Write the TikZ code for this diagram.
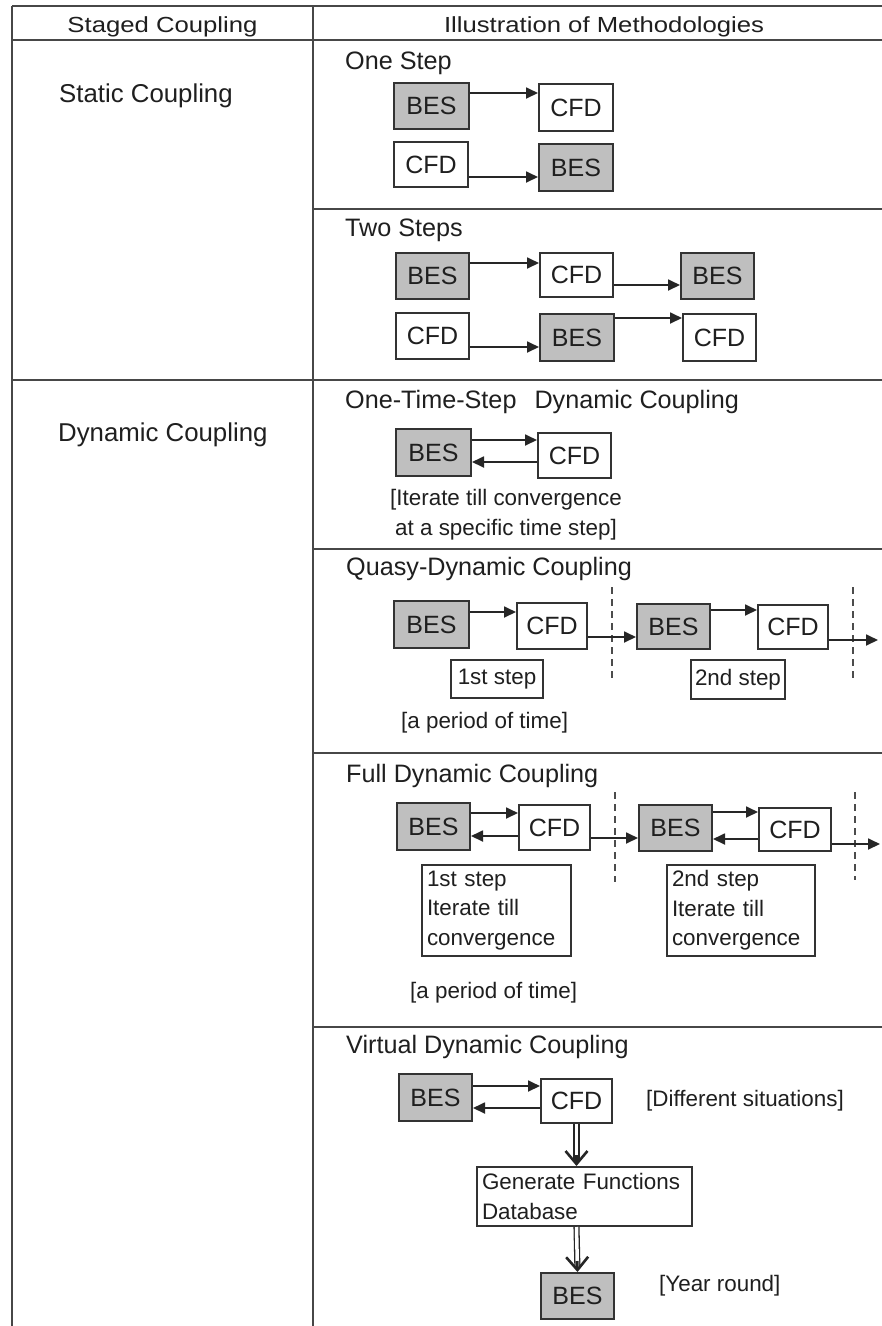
\documentclass[tikz,border=0pt]{standalone}
\usepackage{fontspec}
\usepackage{graphicx}
\setmainfont{Liberation Sans}
\usetikzlibrary{arrows.meta}

% font sizes (1pt = one unit of the picture grid)
\newcommand\hdfont{\fontsize{25.7}{30}\selectfont}
\newcommand\colfont{\fontsize{25.8}{30}\selectfont}
\newcommand\ttlfont{\fontsize{25.2}{30}\selectfont}
\newcommand\boxfont{\fontsize{25}{30}\selectfont}
\newcommand\notefont{\fontsize{22.4}{29.5}\selectfont}

\tikzset{
  rule/.style={line width=2.8pt, draw=black!72},
  blk/.style={draw=black!80, line width=2pt, inner sep=0pt, anchor=north west,
              font=\boxfont, text=black!88},
  bes/.style={blk, fill=gray!50},
  cfd/.style={blk, fill=white},
  stepbox/.style={blk, fill=white, font=\notefont},
  txtbox/.style={blk, fill=white, font=\notefont, align=left, inner xsep=5pt},
  arr/.style={line width=1.8pt, draw=black!85, -{Triangle[length=12pt,width=11pt]}},
  cut/.style={line width=1.6pt, draw=black!70, dash pattern=on 7pt off 5pt},
  lbl/.style={anchor=base west, inner sep=0pt, text=black!88},
  dshaft/.style={draw=black!85, line width=1.3pt, double=white, double distance=3.5pt, shorten >=5pt},
  dhead/.style={draw=black!85, line width=2.6pt, -{Straight Barb[length=13pt,width=22pt]}},
}

\begin{document}
\begin{tikzpicture}[x=1pt,y=-1pt]
\useasboundingbox (0,0) rectangle (882,1326);
\fill[white] (0,0) rectangle (882,1326);

% ---------- table frame ----------
\draw[rule] (12,6) -- (882,6);
\draw[rule] (12,40) -- (882,40);
\draw[rule] (12,380) -- (882,380);
\draw[rule] (12,6) -- (12,1326);
\draw[rule] (313,6) -- (313,1326);
\draw[rule] (313,209) -- (882,209);
\draw[rule] (313,549) -- (882,549);
\draw[rule] (313,753) -- (882,753);
\draw[rule] (313,1027) -- (882,1027);

% ---------- header and left column ----------
\node[anchor=base, inner sep=0pt, text=black!88] (hleft) at (162.5,32) {\hdfont\scalebox{1}[0.85]{Staged Coupling}};
\node[anchor=base, inner sep=0pt, text=black!88] (hright) at (604,32) {\hdfont\scalebox{1}[0.85]{Illustration of Methodologies}};
\node[lbl, font=\colfont] (static) at (59,102) {Static Coupling};
\node[lbl, font=\colfont] (dynamic) at (58,441) {Dynamic Coupling};

% ---------- section titles ----------
\node[lbl, font=\ttlfont] (t1) at (345,69) {One Step};
\node[lbl, font=\ttlfont] (t2) at (345,236) {Two Steps};
\node[lbl, font=\ttlfont] (t3) at (345,408) {One-Time-Step\hspace{18pt}Dynamic Coupling};
\node[lbl, font=\ttlfont] (t4) at (346,575) {Quasy-Dynamic Coupling};
\node[lbl, font=\ttlfont] (t5) at (346,782) {Full Dynamic Coupling};
\node[lbl, font=\ttlfont] (t6) at (346,1053) {Virtual Dynamic Coupling};

% ---------- one step ----------
\node[bes, minimum width=75pt, minimum height=46pt] (b1) at (393,82) {BES};
\node[cfd, minimum width=74pt, minimum height=47pt] (c1) at (538,83) {CFD};
\node[cfd, minimum width=74pt, minimum height=45pt] (c2) at (393,141) {CFD};
\node[bes, minimum width=74pt, minimum height=47pt] (b2) at (538,143) {BES};
\draw[arr] (b1.east |- 0,93) -- (c1.west |- 0,93);
\draw[arr] (c2.east |- 0,177) -- (b2.west |- 0,177);

% ---------- two steps ----------
\node[bes, minimum width=73pt, minimum height=46pt] (b3) at (395,252) {BES};
\node[cfd, minimum width=73pt, minimum height=44pt] (c3) at (539,252) {CFD};
\node[bes, minimum width=73pt, minimum height=46pt] (b4) at (680,252) {BES};
\draw[arr] (b3.east |- 0,263) -- (c3.west |- 0,263);
\draw[arr] (c3.east |- 0,285) -- (b4.west |- 0,285);
\node[cfd, minimum width=73pt, minimum height=46pt] (c4) at (395,312) {CFD};
\node[bes, minimum width=74pt, minimum height=47pt] (b5) at (539,313) {BES};
\node[cfd, minimum width=73pt, minimum height=47pt] (c5) at (682,313) {CFD};
\draw[arr] (c4.east |- 0,347) -- (b5.west |- 0,347);
\draw[arr] (b5.east |- 0,318) -- (c5.west |- 0,318);

% ---------- one-time-step dynamic coupling ----------
\node[bes, minimum width=75pt, minimum height=47pt] (b6) at (395,428) {BES};
\node[cfd, minimum width=73pt, minimum height=45pt] (c6) at (537,432) {CFD};
\draw[arr] (b6.east |- 0,440) -- (c6.west |- 0,440);
\draw[arr] (c6.west |- 0,462) -- (b6.east |- 0,462);
\node[anchor=base, inner sep=0pt, font=\notefont, align=center, text=black!88] (n1) at (506,535)
  {[Iterate till convergence\\at a specific time step]};

% ---------- quasy-dynamic coupling ----------
\draw[cut] (612,587) -- (612,681);
\draw[cut] (853,587) -- (853,680);
\node[bes, minimum width=75pt, minimum height=47pt] (b7) at (393,600) {BES};
\node[cfd, minimum width=70pt, minimum height=46pt] (c7) at (516,602) {CFD};
\node[bes, minimum width=73pt, minimum height=45pt] (b8) at (636,603) {BES};
\node[cfd, minimum width=70pt, minimum height=44pt] (c8) at (757,604) {CFD};
\coordinate (qend) at (878,640);
\draw[arr] (b7.east |- 0,612) -- (c7.west |- 0,612);
\draw[arr] (c7.east |- 0,637) -- (b8.west |- 0,637);
\draw[arr] (b8.east |- 0,610) -- (c8.west |- 0,610);
\draw[arr] (c8.east |- qend) -- (qend);
\node[stepbox, minimum width=92pt, minimum height=38pt] (s1) at (450,659) {1st step};
\node[stepbox, minimum width=94pt, minimum height=39pt] (s2) at (690,659) {2nd step};
\node[lbl, font=\notefont] (p1) at (401,728) {[a period of time]};

% ---------- full dynamic coupling ----------
\draw[cut] (615,792) -- (615,882);
\draw[cut] (855,792) -- (855,880);
\node[bes, minimum width=73pt, minimum height=47pt] (b9) at (396,802) {BES};
\node[cfd, minimum width=71pt, minimum height=45pt] (c9) at (518,804) {CFD};
\node[bes, minimum width=73pt, minimum height=46pt] (b10) at (638,804) {BES};
\node[cfd, minimum width=72pt, minimum height=43pt] (c10) at (758,807) {CFD};
\coordinate (fend) at (880,844);
\draw[arr] (b9.east |- 0,813) -- (c9.west |- 0,813);
\draw[arr] (c9.west |- 0,836) -- (b9.east |- 0,836);
\draw[arr] (c9.east |- 0,838) -- (b10.west |- 0,838);
\draw[arr] (b10.east |- 0,812) -- (c10.west |- 0,812);
\draw[arr] (c10.west |- 0,839) -- (b10.east |- 0,839);
\draw[arr] (c10.east |- fend) -- (fend);
\node[txtbox, minimum width=149pt, minimum height=91pt, text width=139pt] (f1) at (421,864)
  {1st step\\Iterate till\\convergence};
\node[txtbox, minimum width=148pt, minimum height=91pt, text width=138pt] (f2) at (666,864)
  {2nd step\\Iterate till\\convergence};
\node[lbl, font=\notefont] (p2) at (410,998) {[a period of time]};

% ---------- virtual dynamic coupling ----------
\node[bes, minimum width=73pt, minimum height=47pt] (b11) at (398,1073) {BES};
\node[cfd, minimum width=71pt, minimum height=44pt] (c11) at (540,1078) {CFD};
\draw[arr] (b11.east |- 0,1086) -- (c11.west |- 0,1086);
\draw[arr] (c11.west |- 0,1108) -- (b11.east |- 0,1108);
\node[lbl, font=\notefont] (n2) at (646,1106) {[Different situations]};
\node[txtbox, minimum width=215pt, minimum height=59pt, text width=205pt] (gen) at (476,1166)
  {Generate Functions\\Database};
\node[bes, minimum width=73pt, minimum height=46pt] (b12) at (540,1272) {BES};
\node[lbl, font=\notefont] (n3) at (659,1291) {[Year round]};
\draw[dshaft] (c11.south) -- (c11.south |- gen.north);
\draw[dhead, shorten <=31pt] (c11.south) -- (c11.south |- gen.north);
\draw[dshaft] (c11.south |- gen.south) -- (b12.north);
\draw[dhead, shorten <=34pt] (c11.south |- gen.south) -- (b12.north);
\end{tikzpicture}
\end{document}
